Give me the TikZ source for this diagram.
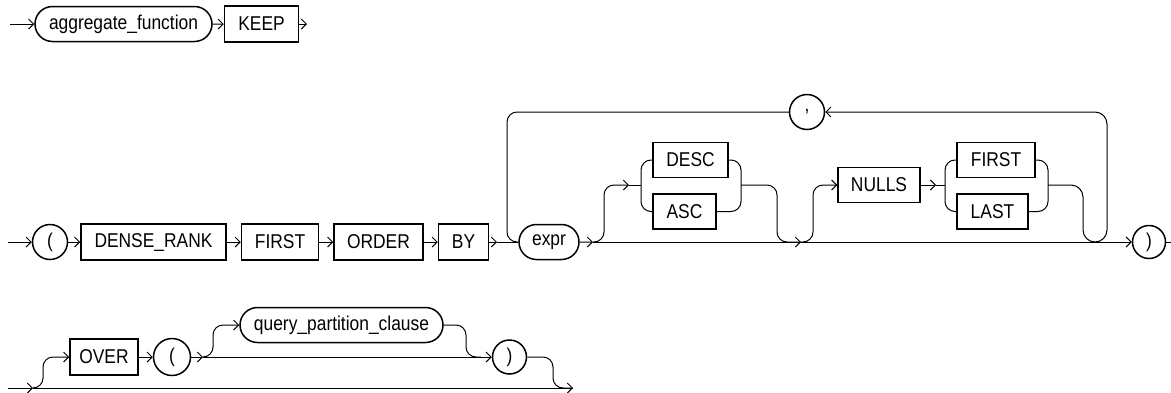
\documentclass[tikz,border=0pt]{standalone}
\usepackage{fontspec}
\setmainfont{Liberation Sans}[FakeStretch=0.87]
\usepackage{xcolor}
\usepackage{tikz}
\usetikzlibrary{positioning,arrows.meta,shapes.misc}

\begin{document}
\begin{tikzpicture}[x=1pt,y=-1pt,
      kw/.style={rectangle,draw,line width=1.5pt,minimum height=36pt,inner sep=0pt,font=\fontsize{20}{22}\selectfont},
      nt/.style={rounded rectangle,draw,line width=1.5pt,minimum height=35pt,inner sep=0pt,font=\fontsize{20}{22}\selectfont},
      sym/.style={circle,draw,line width=1.5pt,minimum size=35pt,inner sep=0pt,font=\fontsize{20}{22}\selectfont},
      rail/.style={line width=1pt},
      flow/.style={rail,-{Straight Barb[length=5pt,width=10pt]}},
      railbend/.style={rail,rounded corners=10pt}]
      \useasboundingbox (0,0) rectangle (1171,392);
      \node[nt,minimum width=177pt] (agg) at (123.5,24) {aggregate\_function};
      \node[kw,minimum width=74pt,right=11pt of agg] (keep) {KEEP};
      \coordinate (in1) at (10,24);
      \coordinate (out1) at (307,24);
      \draw[flow] (in1) -- (agg);
      \draw[flow] (agg) -- (keep);
      \draw[flow] (keep) -- (out1);

      \node[sym] (lpar) at (50,242) {(};
      \node[kw,minimum width=145pt,right=12pt of lpar] (dense) {DENSE\_RANK};
      \node[kw,minimum width=77pt,right=14pt of dense] (first) {FIRST};
      \node[kw,minimum width=89pt,right=14pt of first] (order) {ORDER};
      \node[kw,minimum width=50pt,right=14pt of order] (by) {BY};
      \node[nt,minimum width=60pt] (expr) at (549,242) {expr};
      \node[kw,minimum width=75pt,minimum height=35pt] (desc) at (690.5,160) {DESC};
      \node[kw,minimum width=63pt,minimum height=35pt,below=15pt of desc.south west,anchor=north west] (asc) {ASC};
      \node[kw,minimum width=82pt,minimum height=35pt] (nulls) at (879,185) {NULLS};
      \node[kw,minimum width=78pt,minimum height=35pt] (nfirst) at (996,160) {FIRST};
      \node[kw,minimum width=71pt,minimum height=35pt,below=15pt of nfirst.south west,anchor=north west] (nlast) {LAST};
      \node[sym] (comma) at (807,112) {,};
      \node[sym,minimum size=33pt] (rpar) at (1149,242) {)};
      \coordinate (in2) at (8,242);
      \coordinate (j1) at (497,242);
      \coordinate (e1) at (593,242);
      \coordinate (m1) at (801,242);
      \coordinate (o1) at (629,185);
      \coordinate (o2) at (936,185);
      \coordinate (out2) at (1171,242);
      \draw[flow] (in2) -- (lpar);
      \draw[flow] (lpar) -- (dense);
      \draw[flow] (dense) -- (first);
      \draw[flow] (first) -- (order);
      \draw[flow] (order) -- (by);
      \draw[flow] (by) -- (j1);
      \draw[rail] (j1) -- (expr);
      \draw[flow] (expr) -- (e1);
      \draw[flow] (e1) -- (m1);
      \draw[flow] (m1) -- (rpar);
      \draw[rail] (rpar) -- (out2);
      \draw[railbend,flow] (e1) -| (604,185) -- (o1);
      \draw[rail] (o1) -- (641,185);
      \draw[railbend] (desc.west) -| (641,185) |- (asc.west);
      \draw[railbend] (desc.east) -| (741,185) |- (asc.east);
      \draw[railbend] (741,185) -| (777,242) -- (m1);
      \draw[railbend,flow] (m1) -| (813,185) -- (nulls);
      \draw[flow] (nulls) -- (o2);
      \draw[rail] (o2) -- (945,185);
      \draw[railbend] (nfirst.west) -| (945,185) |- (nlast.west);
      \draw[railbend] (nfirst.east) -| (1048,185) |- (nlast.east);
      \draw[flow,rounded corners=12pt] (1048,185) -| (1083,242) -| (1107,112) -- (comma);
      \draw[railbend] (comma) -| (507,242) -- (expr);

      \node[kw,minimum width=68pt] (over) at (104,357) {OVER};
      \node[sym,minimum size=37pt,right=14pt of over] (olpar) {(};
      \node[nt,minimum width=203pt] (qpc) at (341.5,325) {query\_partition\_clause};
      \node[sym,minimum size=34pt] (orpar) at (509.5,357) {)};
      \coordinate (in3) at (8,388);
      \coordinate (b1) at (33,388);
      \coordinate (b2) at (203,357);
      \coordinate (b3) at (481,357);
      \coordinate (out3) at (573,388);
      \draw[flow] (in3) -- (b1);
      \draw[flow] (b1) -- (out3);
      \draw[railbend,flow] (b1) -| (43,357) -- (over);
      \draw[flow] (over) -- (olpar);
      \draw[flow] (olpar) -- (b2);
      \draw[flow] (b2) -- (orpar);
      \draw[railbend,flow] (b2) -| (213,325) -- (qpc);
      \draw[railbend] (qpc) -| (466,357) -- (b3);
      \draw[railbend] (orpar) -| (553,388) -- (out3);
    \end{tikzpicture}
\end{document}
